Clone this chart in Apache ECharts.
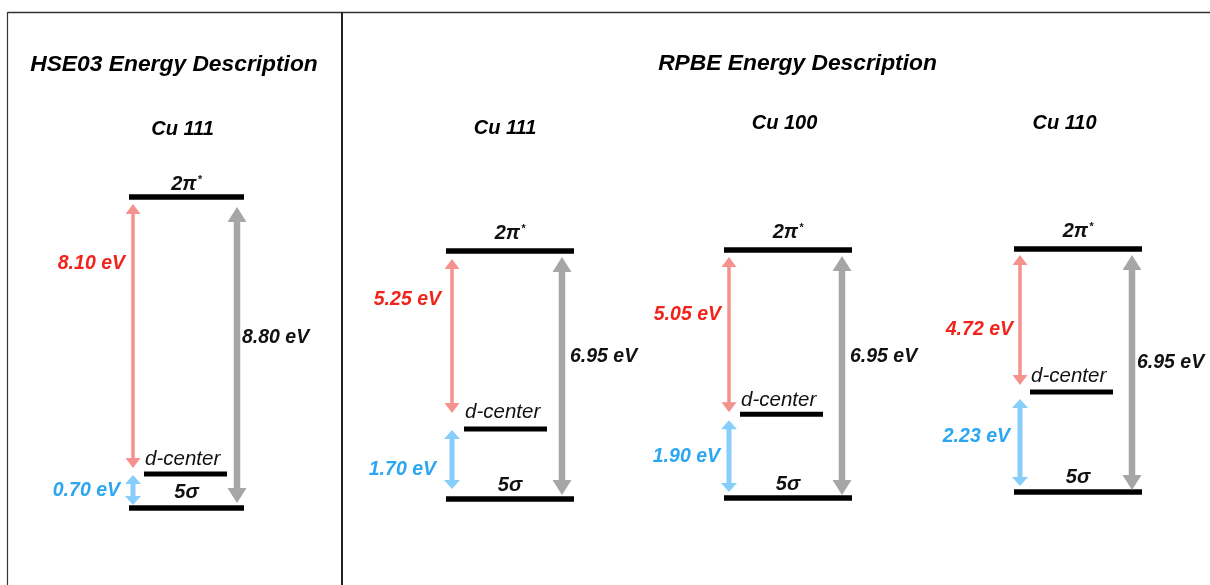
<!DOCTYPE html>
<html><head><meta charset="utf-8">
<script src="https://cdn.jsdelivr.net/npm/echarts@6/dist/echarts.min.js"></script>
<style>html,body{margin:0;padding:0;background:#fff}#chart{width:1210px;height:585px}</style>
</head><body><div id="chart"></div>
<script>
// ---------------- DATA ----------------
const methodTitles = ['HSE03 Energy Description', 'RPBE Energy Description'];
const surfaces = ['Cu 111', 'Cu 111', 'Cu 100', 'Cu 110'];
const levelNames = ['2π*', 'd-center', '5σ'];
const gap5sTo2pi = [8.80, 6.95, 6.95, 6.95];   // grey arrows
const gapDTo2pi  = [8.10, 5.25, 5.05, 4.72];   // red arrows
const gap5sToD   = [0.70, 1.70, 1.90, 2.23];   // blue arrows
const dCenterDrawn = [0.96, 1.96, 2.35, 2.86]; // d-center level as drawn (eV above 5σ)

// ---------------- LAYOUT ----------------
const FONT = '"Liberation Sans", Arial, Helvetica, sans-serif';
const PANELS = [
  {left:129, width:115, top:197, height:311, dX:[15,98], arrowX:4, grayX:108,
   redLab:[-4,6.91], blueLab:[-9,0.48], grayLab:[113,4.82],
   redIn:[7,6], blueIn:[1,3], grayIn:[10,5], topDy:-12.5, botDy:-15.5, dDy:-14.5},
  {left:446, width:128, top:251, height:248, dX:[18,101], arrowX:6, grayX:116,
   redLab:[-5,5.58], blueLab:[-10,0.81], grayLab:[124,3.98],
   redIn:[8,16], blueIn:[1,10], grayIn:[6,4], topDy:-17.5, botDy:-13.5, dDy:-16.5},
  {left:724, width:128, top:250, height:248, dX:[16,99], arrowX:5, grayX:118,
   redLab:[-3,5.13], blueLab:[-4,1.15], grayLab:[126,3.95],
   redIn:[7,2], blueIn:[6,6], grayIn:[6,3], topDy:-17.5, botDy:-13.5, dDy:-14},
  {left:1014, width:128, top:249, height:243, dX:[16,99], arrowX:6, grayX:118,
   redLab:[-1,4.63], blueLab:[-4,1.57], grayLab:[123,3.69],
   redIn:[6,7], blueIn:[7,6], grayIn:[6,2], topDy:-17.5, botDy:-14.5, dDy:-15.5}
];
const ARROW = [
  {w:3.5, hw:15, hl:10, color:'#F4928E', text:'#F0241B'},
  {w:5,   hw:16, hl:9,  color:'#87CEFA', text:'#2DA6F2'},
  {w:6.5, hw:19, hl:15, color:'#A6A6A6', text:'#111111'}
];
const SURF_POS = [[182.5,129.5],[505,128.5],[784.5,123.5],[1064.5,123]];
const TITLE_POS = [[174,65],[797.5,64]];

function txt(o){
  return Object.assign({fontFamily:FONT, fontStyle:'italic', fontWeight:'bold', fontSize:20,
    fill:'#111', align:'center', verticalAlign:'middle', textAlign:'center', textVerticalAlign:'middle'}, o);
}
function arrowPts(x, y0, y1, s){
  const w=s.w/2, h=s.hw/2, l=s.hl;
  return [[x,y0],[x+h,y0+l],[x+w,y0+l],[x+w,y1-l],[x+h,y1-l],[x,y1],[x-h,y1-l],[x-w,y1-l],[x-w,y0+l],[x-h,y0+l]];
}

const grids=[], xAxes=[], yAxes=[], series=[];
PANELS.forEach((P,i)=>{
  grids.push({left:P.left, top:P.top, width:P.width, height:P.height});
  xAxes.push({type:'value', gridIndex:i, min:0, max:P.width, show:false});
  yAxes.push({type:'value', gridIndex:i, min:0, max:gap5sTo2pi[i], show:false});
  // energy levels
  series.push({
    type:'custom', xAxisIndex:i, yAxisIndex:i, clip:false, silent:true,
    data:[[0, P.width, gap5sTo2pi[i], 0], [P.dX[0], P.dX[1], dCenterDrawn[i], 1], [0, P.width, 0, 2]],
    renderItem:(params, api)=>{
      const k = api.value(3);
      const a = api.coord([api.value(0), api.value(2)]);
      const b = api.coord([api.value(1), api.value(2)]);
      const mid = (a[0]+b[0])/2;
      let label;
      if (k===0) {
        label = {type:'text', style: txt({x:mid, y:a[1]+P.topDy, text:'{m|2π}{s|*}',
          rich:{m:{fontFamily:FONT, fontStyle:'italic', fontWeight:'bold', fontSize:20, fill:'#111'},
                s:{fontFamily:FONT, fontStyle:'italic', fontWeight:'bold', fontSize:11, fill:'#111', verticalAlign:'top', padding:[0,0,0,1]}}})};
      } else if (k===1) {
        label = {type:'text', style: txt({x:a[0]+1, y:a[1]+P.dDy, text:levelNames[1], fontWeight:'normal', fontSize:20.5,
          align:'left', textAlign:'left'})};
      } else {
        label = {type:'text', style: txt({x:mid, y:a[1]+P.botDy, text:levelNames[2]})};
      }
      return {type:'group', children:[
        {type:'line', shape:{x1:a[0], y1:a[1], x2:b[0], y2:b[1]}, style:{stroke:'#000', lineWidth: k===1?5:5.5, lineCap:'butt'}},
        label
      ]};
    }
  });
  // gap arrows
  series.push({
    type:'custom', xAxisIndex:i, yAxisIndex:i, clip:false, silent:true,
    data:[
      [P.arrowX, gap5sTo2pi[i], dCenterDrawn[i], 0, gapDTo2pi[i]],
      [P.arrowX, dCenterDrawn[i], 0, 1, gap5sToD[i]],
      [P.grayX, gap5sTo2pi[i], 0, 2, gap5sTo2pi[i]]
    ],
    renderItem:(params, api)=>{
      const k = api.value(3);
      const s = ARROW[k];
      const t = api.coord([api.value(0), api.value(1)]);
      const b = api.coord([api.value(0), api.value(2)]);
      const ins = [P.redIn, P.blueIn, P.grayIn][k];
      const lab = [P.redLab, P.blueLab, P.grayLab][k];
      const lp = api.coord([lab[0], lab[1]]);
      const al = k===2 ? 'left' : 'right';
      return {type:'group', children:[
        {type:'polygon', shape:{points:arrowPts(t[0], t[1]+ins[0], b[1]-ins[1], s)}, style:{fill:s.color}},
        {type:'text', style: txt({x:lp[0], y:lp[1], text:api.value(4).toFixed(2)+' eV', fill:s.text,
          fontSize:19.5, align:al, textAlign:al})}
      ]};
    }
  });
});

const graphic = [
  {type:'line', shape:{x1:7.5, y1:12.5, x2:1210, y2:12.5}, style:{stroke:'#333', lineWidth:1.5}},
  {type:'line', shape:{x1:7.5, y1:12, x2:7.5, y2:585}, style:{stroke:'#333', lineWidth:1.2}},
  {type:'line', shape:{x1:342, y1:12, x2:342, y2:585}, style:{stroke:'#222', lineWidth:2}}
];
methodTitles.forEach((t,j)=>graphic.push({type:'text', x:TITLE_POS[j][0], y:TITLE_POS[j][1],
  style: txt({text:t, fontSize:22.8, fill:'#000', x:0, y:0})}));
surfaces.forEach((t,j)=>graphic.push({type:'text', x:SURF_POS[j][0], y:SURF_POS[j][1],
  style: txt({text:t, fontSize:20, fill:'#000', x:0, y:0})}));

const chart = echarts.init(document.getElementById('chart'), null, {renderer:'canvas'});
chart.setOption({
  animation:false, backgroundColor:'#fff',
  grid:grids, xAxis:xAxes, yAxis:yAxes, series:series, graphic:graphic
});
</script></body></html>
